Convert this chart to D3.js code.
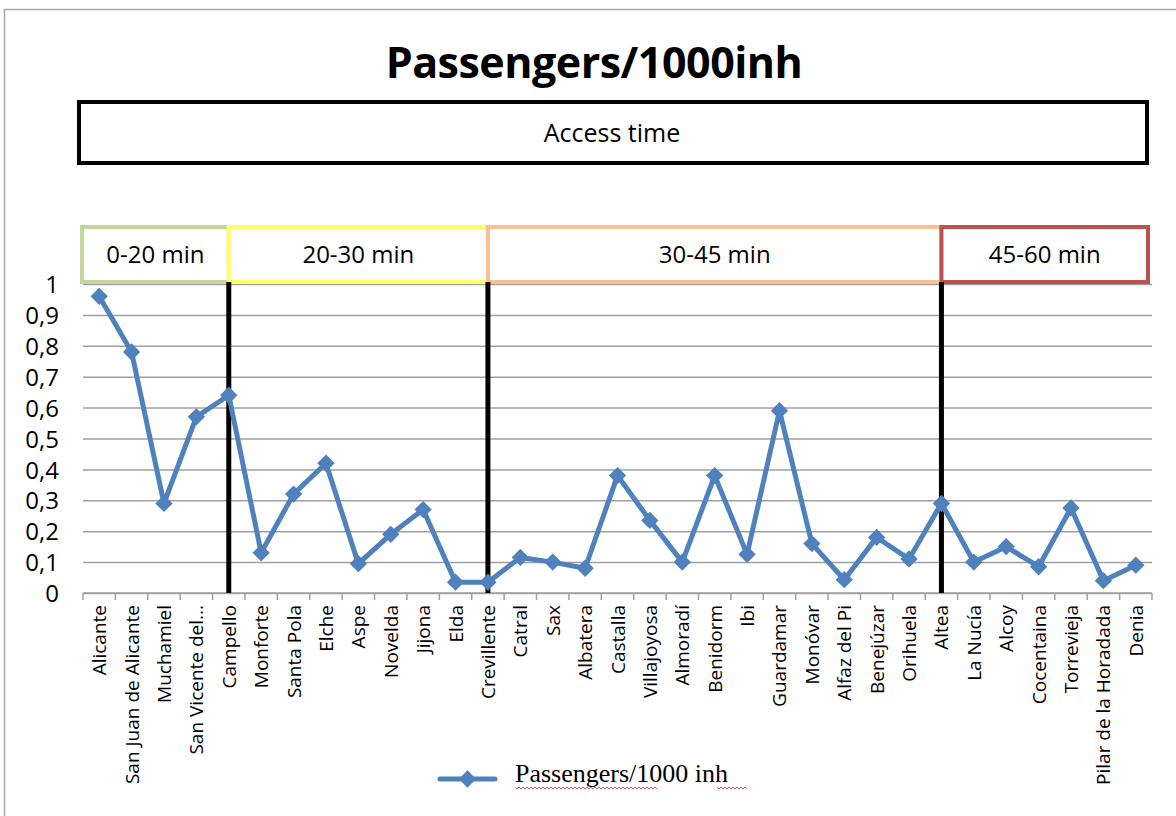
<!DOCTYPE html>
<html>
<head>
<meta charset="utf-8">
<script src="https://cdn.jsdelivr.net/npm/d3@7"></script>
<style>
  html, body { margin: 0; padding: 0; background: #fff; }
  svg { display: block; }
</style>
</head>
<body>
<svg id="chart" width="1176" height="816"></svg>
<script>
// Municipalities, ordered by access time
const towns = [
  "Alicante", "San Juan de Alicante", "Muchamiel", "San Vicente del...", "Campello",
  "Monforte", "Santa Pola", "Elche", "Aspe", "Novelda", "Jijona", "Elda", "Crevillente",
  "Catral", "Sax", "Albatera", "Castalla", "Villajoyosa", "Almoradí", "Benidorm", "Ibi",
  "Guardamar", "Monóvar", "Alfaz del Pi", "Benejúzar", "Orihuela", "Altea",
  "La Nucía", "Alcoy", "Cocentaina", "Torrevieja", "Pilar de la Horadada", "Denia"
];

// Passengers per 1000 inhabitants
const passengers = [
  0.96, 0.78, 0.29, 0.57, 0.64,
  0.13, 0.32, 0.42, 0.095, 0.19, 0.27, 0.035, 0.035,
  0.115, 0.10, 0.08, 0.38, 0.235, 0.10, 0.38, 0.125,
  0.59, 0.16, 0.043, 0.18, 0.11, 0.29,
  0.10, 0.15, 0.085, 0.275, 0.04, 0.09
];

// Access-time bands: boundaries sit at the centre of the named towns
const bands = [
  { label: "0-20 min",  from: null,          to: "Campello",    color: "#c3d69b" },
  { label: "20-30 min", from: "Campello",    to: "Crevillente", color: "#ffff66" },
  { label: "30-45 min", from: "Crevillente", to: "Altea",       color: "#fac090" },
  { label: "45-60 min", from: "Altea",       to: null,          color: "#c0504d" }
];

const yTicks = [0, 0.1, 0.2, 0.3, 0.4, 0.5, 0.6, 0.7, 0.8, 0.9, 1];

const svg = d3.select("#chart");
const W = 1176, H = 816;
const plot = { left: 83, right: 1152, top: 284, bottom: 593 };

const x = d3.scaleBand().domain(towns).range([plot.left, plot.right]).padding(0);
const y = d3.scaleLinear().domain([0, 1]).range([plot.bottom, plot.top]);
const cx = t => x(t) + x.bandwidth() / 2;

const sans = "'Open Sans', 'Noto Sans', sans-serif";

// outer frame
svg.append("rect")
  .attr("x", 4.5).attr("y", 9.5).attr("width", W + 10).attr("height", H)
  .attr("fill", "none").attr("stroke", "#a6a6a6").attr("stroke-width", 1.5);

// title
svg.append("text")
  .attr("x", 594).attr("y", 78)
  .attr("text-anchor", "middle")
  .attr("font-family", sans).attr("font-weight", 700).attr("font-size", 43)
  .attr("letter-spacing", -0.5)
  .text("Passengers/1000inh");

// access-time banner
svg.append("rect")
  .attr("x", 79).attr("y", 102).attr("width", 1068).attr("height", 61)
  .attr("fill", "#fff").attr("stroke", "#000").attr("stroke-width", 4);
svg.append("text")
  .attr("x", 612).attr("y", 142)
  .attr("text-anchor", "middle")
  .attr("font-family", sans).attr("font-size", 25)
  .text("Access time");

// horizontal gridlines and value labels
const yAxis = d3.axisLeft(y).tickValues(yTicks)
  .tickSize(-(plot.right - plot.left))
  .tickFormat(d => d3.format("")(d).replace(".", ","));
const gy = svg.append("g")
  .attr("transform", `translate(${plot.left},0)`)
  .call(yAxis);
gy.select(".domain").remove();
gy.selectAll(".tick line").attr("stroke", "#a0a0a0").attr("stroke-width", 1.5);
gy.selectAll(".tick text")
  .attr("x", -24).attr("dy", "0.36em")
  .attr("font-family", sans).attr("font-size", 24).attr("fill", "#000");

// x axis with category ticks between towns
const gx = svg.append("g")
  .attr("transform", `translate(0,${plot.bottom})`);
gx.append("line")
  .attr("x1", plot.left).attr("x2", plot.right)
  .attr("stroke", "#a0a0a0").attr("stroke-width", 1.5);
const edges = towns.map(t => x(t)).concat([x.range()[1]]);
gx.selectAll("line.cat").data(edges).join("line")
  .attr("class", "cat")
  .attr("x1", d => d).attr("x2", d => d)
  .attr("y1", 0).attr("y2", 7)
  .attr("stroke", "#a0a0a0").attr("stroke-width", 1.5);
gx.selectAll("text").data(towns).join("text")
  .attr("transform", d => `translate(${cx(d) + 7},${12}) rotate(-90)`)
  .attr("text-anchor", "end")
  .attr("font-family", sans).attr("font-size", 19).attr("fill", "#000")
  .text(d => d);

// band header boxes
const bandX0 = b => b.from ? cx(b.from) : plot.left - 1;
const bandX1 = b => b.to ? cx(b.to) : plot.right - 4;
svg.selectAll("rect.band").data(bands).join("rect")
  .attr("class", "band")
  .attr("x", b => bandX0(b)).attr("y", 227)
  .attr("width", b => bandX1(b) - bandX0(b)).attr("height", 55)
  .attr("fill", "#fff").attr("stroke", b => b.color).attr("stroke-width", 4);
svg.selectAll("text.band").data(bands).join("text")
  .attr("class", "band")
  .attr("x", b => (bandX0(b) + bandX1(b)) / 2)
  .attr("y", 263)
  .attr("text-anchor", "middle")
  .attr("font-family", sans).attr("font-size", 24)
  .text(b => b.label);

// band boundary lines
const boundaries = bands.filter(b => b.from).map(b => b.from);
svg.selectAll("line.boundary").data(boundaries).join("line")
  .attr("class", "boundary")
  .attr("x1", d => cx(d)).attr("x2", d => cx(d))
  .attr("y1", 282).attr("y2", plot.bottom)
  .attr("stroke", "#000").attr("stroke-width", 5);

// series line and diamond markers
const blue = "#4f81bd";
const line = d3.line().x((d, i) => cx(towns[i])).y(d => y(d));
svg.append("path").datum(passengers)
  .attr("d", line)
  .attr("fill", "none").attr("stroke", blue)
  .attr("stroke-width", 5).attr("stroke-linejoin", "round");
const marker = d3.symbol().type(d3.symbolSquare).size(150);
svg.selectAll("path.pt").data(passengers).join("path")
  .attr("class", "pt")
  .attr("d", marker)
  .attr("transform", (d, i) => `translate(${cx(towns[i])},${y(d)}) rotate(45)`)
  .attr("fill", blue);

// legend
const lg = svg.append("g").attr("transform", "translate(440,779)");
lg.append("line").attr("x1", 0).attr("x2", 55)
  .attr("stroke", blue).attr("stroke-width", 5).attr("stroke-linecap", "round");
lg.append("path")
  .attr("d", marker)
  .attr("transform", "translate(27.5,0) rotate(45)")
  .attr("fill", blue);
lg.append("text")
  .attr("x", 75).attr("y", 3)
  .attr("font-family", "'Liberation Serif', 'DejaVu Serif', serif")
  .attr("font-size", 26).attr("fill", "#000")
  .text("Passengers/1000 inh");

// spell-check squiggles under the legend words
function squiggle(x0, x1, yy) {
  let d = `M${x0},${yy}`;
  for (let xx = x0, k = 0; xx < x1; xx += 2, k++) d += `L${xx + 2},${yy + (k % 2 ? 0 : 2)}`;
  return d;
}
lg.append("path").attr("d", squiggle(75, 217, 8))
  .attr("fill", "none").attr("stroke", "#e03030").attr("stroke-width", 0.8);
lg.append("path").attr("d", squiggle(277, 307, 8))
  .attr("fill", "none").attr("stroke", "#e03030").attr("stroke-width", 0.8);
</script>
</body>
</html>
